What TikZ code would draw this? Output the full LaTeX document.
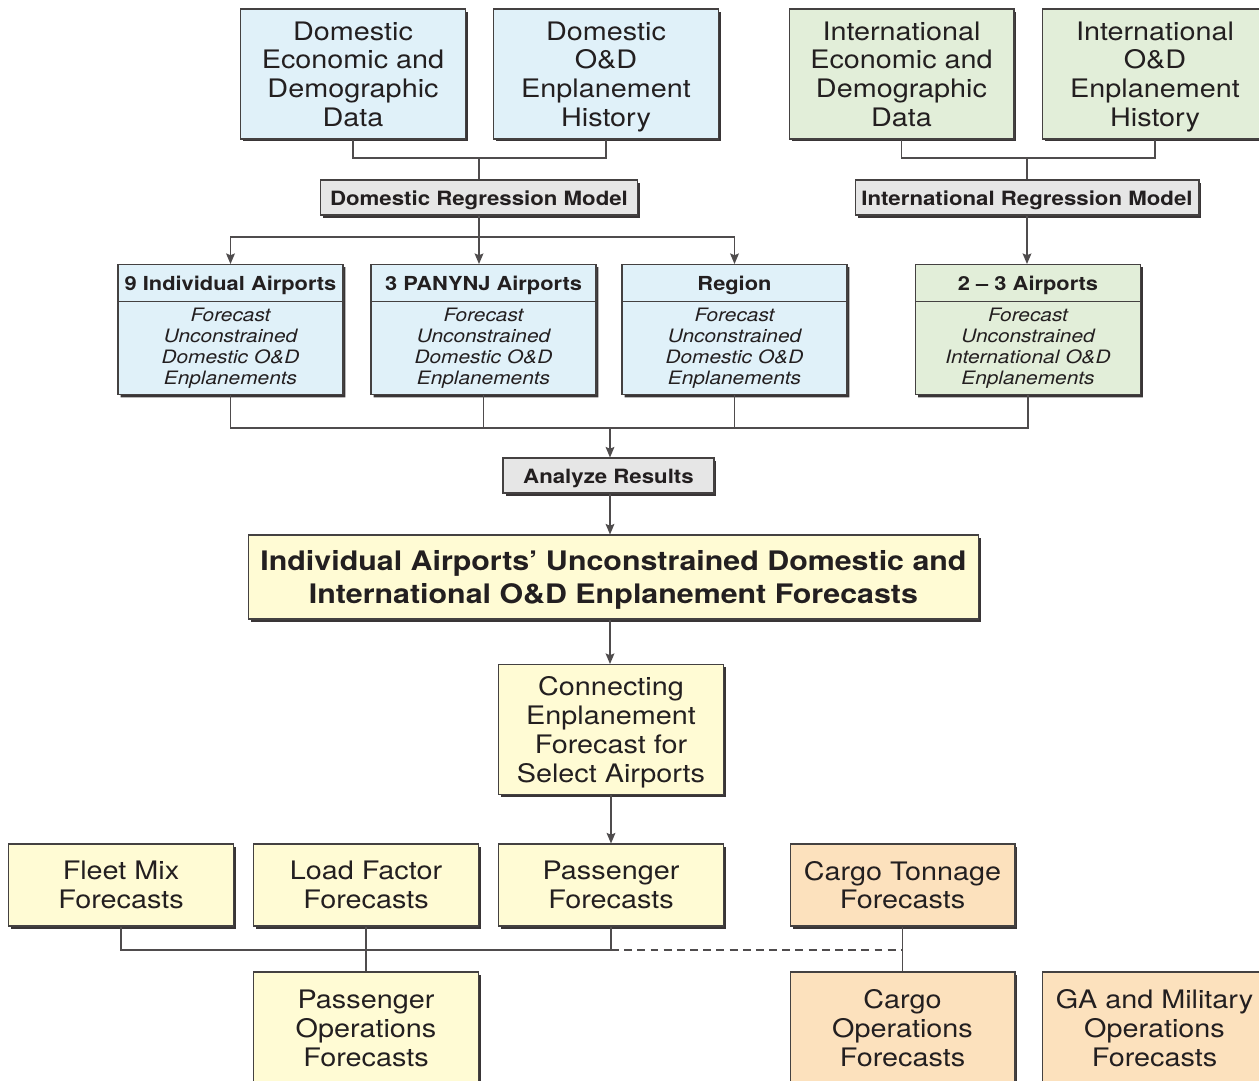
\documentclass[tikz,border=0pt]{standalone}
\usepackage{fontspec}
\setmainfont[FakeStretch=1.13]{TeX Gyre Heros}
\usetikzlibrary{arrows.meta, shadows, shapes.multipart}
\definecolor{dblue}{RGB}{224,241,249}
\definecolor{igreen}{RGB}{226,238,217}
\definecolor{fyellow}{RGB}{255,251,212}
\definecolor{cpeach}{RGB}{252,225,189}
\definecolor{mgray}{RGB}{230,230,230}
\definecolor{ink}{RGB}{35,31,32}
\newcommand{\hdrstrut}{\rule[-2.8pt]{0pt}{14pt}}
\newcommand{\hdrfont}{\fontsize{11}{13}\selectfont\bfseries}

\tikzset{
    box/.style={draw=ink!85, line width=0.6pt, align=center, text=ink, inner sep=2pt,
        drop shadow={shadow xshift=0.05cm, shadow yshift=-0.05cm, fill=ink!90, opacity=1}},
    bigbox/.style={box, font=\fontsize{14.5}{16.4}\selectfont, minimum width=4.5cm, minimum height=2.6cm,
        text depth=0pt},
    lowbox/.style={bigbox, minimum height=1.64cm},
    modelbox/.style={box, fill=mgray, font=\fontsize{11.2}{13}\selectfont\bfseries, minimum height=0.7cm,
        text height=9.5pt, text depth=0.8pt},
    splitbox/.style={box, rectangle split, rectangle split parts=2, text width=4.36cm,
        inner ysep=3.2pt, font=\fontsize{10.5}{12.1}\selectfont, anchor=north},
    link/.style={draw=ink!80, line width=0.85pt},
    arr/.style={link, -{Stealth[length=6pt, width=5pt, inset=1pt]}}
}

\begin{document}
\begin{tikzpicture}[x=0.02cm, y=-0.02cm]
    \clip (0,0) rectangle (1259,1080);

    % Input data
    \node[bigbox, fill=dblue] (decon) at (353,74) {Domestic\\Economic and\\Demographic\\Data};
    \node[bigbox, fill=dblue] (dod) at (606,74) {Domestic\\O\&D\\Enplanement\\History};
    \node[bigbox, fill=igreen] (iecon) at (901.5,74) {International\\Economic and\\Demographic\\Data};
    \node[bigbox, fill=igreen] (iod) at (1155,74) {International\\O\&D\\Enplanement\\History};

    % Regression models
    \node[modelbox, minimum width=6.36cm] (dreg) at (479,197.5) {Domestic Regression Model};
    \node[modelbox, minimum width=6.88cm] (ireg) at (1027,197.5) {International Regression Model};

    \coordinate (dj) at (479,158);
    \coordinate (ij) at (1027,158);
    \draw[link] (decon.south) |- (dj) -| (dod.south);
    \draw[link] (dj) -- (dreg.north);
    \draw[link] (iecon.south) |- (ij) -| (iod.south);
    \draw[link] (ij) -- (ireg.north);

    % Unconstrained O&D forecasts
    \node[splitbox, fill=dblue] (ind9) at (230.5,264)
        {\hdrstrut{\hdrfont 9 Individual Airports}
         \nodepart{two}\itshape Forecast\\Unconstrained\\Domestic O\&D\\Enplanements};
    \node[splitbox, fill=dblue] (pany) at (483.5,264)
        {\hdrstrut{\hdrfont 3 PANYNJ Airports}
         \nodepart{two}\itshape Forecast\\Unconstrained\\Domestic O\&D\\Enplanements};
    \node[splitbox, fill=dblue] (region) at (734.5,264)
        {\hdrstrut{\hdrfont Region}
         \nodepart{two}\itshape Forecast\\Unconstrained\\Domestic O\&D\\Enplanements};
    \node[splitbox, fill=igreen] (int23) at (1028,264)
        {\hdrstrut{\hdrfont 2 -- 3 Airports}
         \nodepart{two}\itshape Forecast\\Unconstrained\\International O\&D\\Enplanements};

    \coordinate (db) at (479,237);
    \draw[link] (dreg.south) -- (db);
    \draw[arr] (db) -| (ind9.north);
    \draw[arr] (db) -- (db |- pany.north);
    \draw[arr] (db) -| (region.north);
    \draw[arr] (ireg.south) -- (ireg.south |- int23.north);

    % Results
    \node[modelbox, minimum width=4.22cm] (analyze) at (608.5,475.5) {Analyze Results};
    \node[box, fill=fyellow, font=\fontsize{15.3}{18.5}\selectfont\bfseries, minimum width=14.62cm,
        minimum height=1.68cm, text depth=0pt] (airfc) at (613.5,577)
        {Individual Airports’ Unconstrained Domestic and\\International O\&D Enplanement Forecasts};
    \node[bigbox, fill=fyellow] (conn) at (611,729.5) {Connecting\\Enplanement\\Forecast for\\Select Airports};

    \coordinate (mj) at (610,428);
    \draw[link] (ind9.south) |- (mj) -| (int23.south);
    \draw[link] (pany.south) -- (pany.south |- mj);
    \draw[link] (region.south) -- (region.south |- mj);
    \draw[arr] (mj) -- (mj |- analyze.north);
    \draw[arr] (mj |- analyze.south) -- (mj |- airfc.north);
    \draw[arr] (mj |- airfc.south) -- (mj |- conn.north);

    % Forecasts
    \node[lowbox, fill=fyellow] (fleet) at (121,885) {Fleet Mix\\Forecasts};
    \node[lowbox, fill=fyellow] (load) at (366,885) {Load Factor\\Forecasts};
    \node[lowbox, fill=fyellow] (pax) at (611,885) {Passenger\\Forecasts};
    \node[lowbox, fill=cpeach] (cargo) at (902.5,885) {Cargo Tonnage\\Forecasts};
    \draw[arr] (conn.south) -- (pax.north);

    % Operations
    \node[bigbox, fill=fyellow, minimum height=2.24cm] (paxops) at (366,1028) {Passenger\\Operations\\Forecasts};
    \node[bigbox, fill=cpeach, minimum height=2.24cm] (cargoops) at (902.5,1028) {Cargo\\Operations\\Forecasts};
    \node[bigbox, fill=cpeach, minimum height=2.24cm] (gaops) at (1154.5,1028) {GA and Military\\Operations\\Forecasts};

    \coordinate (bj) at (611,950);
    \draw[link] (fleet.south) |- (bj) -- (pax.south);
    \draw[link] (load.south) -- (paxops.north);
    \draw[link, dashed, dash pattern=on 4.5pt off 3pt] (bj) -- (cargo.south |- bj);
    \draw[link] (cargo.south) -- (cargoops.north);
\end{tikzpicture}
\end{document}
